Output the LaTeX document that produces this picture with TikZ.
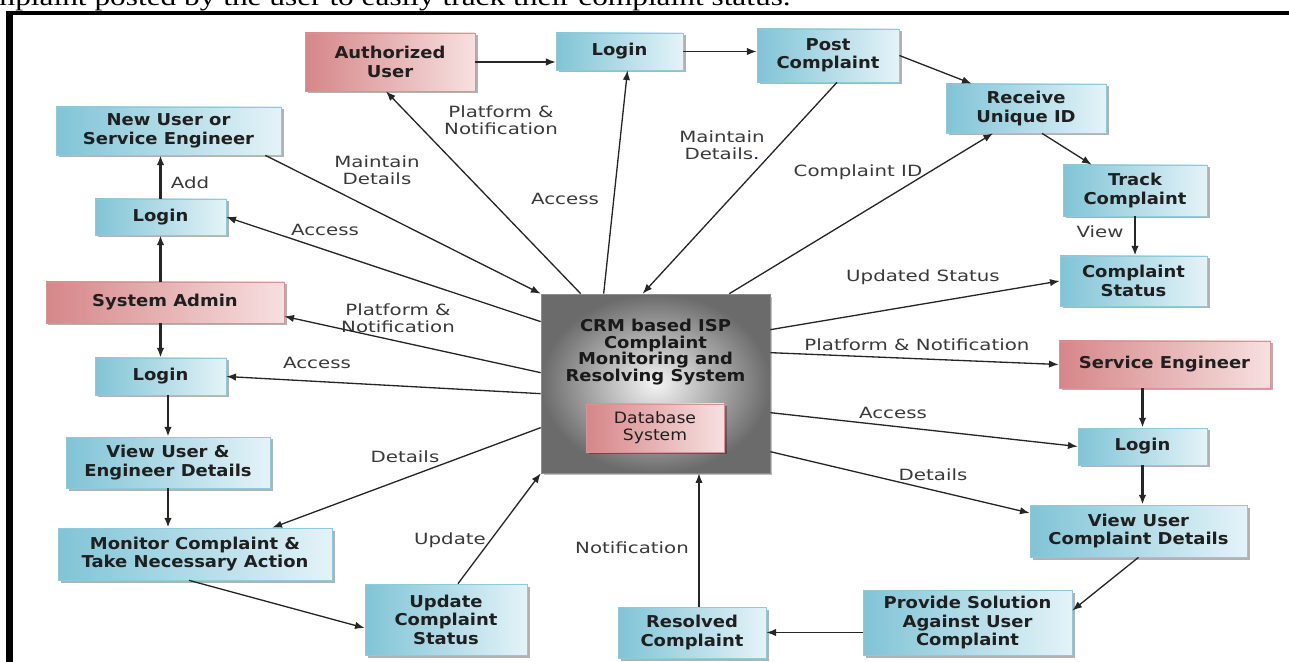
\documentclass[tikz,border=0pt]{standalone}
\usepackage{fontspec}
\setmainfont{DejaVu Sans}
\newfontfamily\boxfont{DejaVu Sans}[FakeStretch=1.1]
\newfontfamily\lblfont{DejaVu Sans}[FakeStretch=1.28]
\newfontfamily\docfont{Liberation Serif}[FakeStretch=1.23]
\usetikzlibrary{arrows.meta,shadows,calc}
\definecolor{bluedark}{RGB}{128,196,214}
\definecolor{bluelight}{RGB}{228,243,248}
\definecolor{reddark}{RGB}{214,134,136}
\definecolor{redlight}{RGB}{247,224,224}
\definecolor{txtgray}{RGB}{58,58,58}
\begin{document}
\begin{tikzpicture}[x=0.02cm, y=-0.02cm, >={Latex[length=5.5pt,width=4.2pt]},
  box/.style 2 args={minimum width=#1*0.02cm, minimum height=#2*0.02cm, inner sep=0pt,
    align=center, text=black!88, font=\boxfont\bfseries\fontsize{9.3}{10.5}\selectfont,
    drop shadow={shadow xshift=0.05cm, shadow yshift=-0.05cm, opacity=0.3, fill=black}},
  bluebox/.style 2 args={box={#1}{#2}, left color=bluedark, right color=bluelight, draw=bluedark!90, line width=0.4pt},
  redbox/.style 2 args={box={#1}{#2}, left color=reddark, right color=redlight, draw=reddark!90, line width=0.4pt},
  crmbox/.style={minimum width=4.58cm, minimum height=3.58cm, inner sep=0pt, shading=radial,
    inner color=black!4, outer color=black!58, draw=black!45, line width=0.4pt,
    drop shadow={shadow xshift=0.05cm, shadow yshift=-0.05cm, opacity=0.25, fill=black}},
  crmtext/.style={align=center, text=black!90, font=\boxfont\bfseries\fontsize{9.3}{9.6}\selectfont},
  lbl/.style={align=center, text=txtgray, inner sep=0pt, font=\lblfont\fontsize{8.8}{9.4}\selectfont},
  flow/.style={->, line width=0.75pt, black!85},
  vflow/.style={flow, line width=1.3pt}]
\useasboundingbox (0,0) rectangle (1289,662);
\clip (0,0) rectangle (1289,662);
% page text and frame
\node[anchor=base west, inner sep=0pt, font=\docfont\fontsize{14.5}{17}\selectfont] (doctext) at (-39,5.5)
  {complaint posted by the user to easily track their complaint status.};
\fill (6,11) rectangle (1300,15.5);
\fill (6,11) rectangle (13,670);
% boxes
\node[redbox={170}{58}] (auth) at (390,62) {Authorized\\User};
\node[bluebox={127}{37}] (login1) at (619.5,51.5) {Login};
\node[bluebox={142}{53}] (post) at (828,55.5) {Post\\Complaint};
\node[bluebox={160}{49}] (recv) at (1026,108.5) {Receive\\Unique ID};
\node[bluebox={144}{51}] (track) at (1135,190.5) {Track\\Complaint};
\node[bluebox={147}{50}] (cstatus) at (1133.5,281) {Complaint\\Status};
\node[redbox={211}{47}] (seng) at (1164.5,364.5) {Service Engineer};
\node[bluebox={129}{37}] (login4) at (1142.5,446.5) {Login};
\node[bluebox={217}{52}] (vucd) at (1138.5,531) {View User\\Complaint Details};
\node[bluebox={209}{65}] (provide) at (967.5,622.5) {Provide Solution\\Against User\\Complaint};
\node[bluebox={148}{51}] (resolved) at (692,632.5) {Resolved\\Complaint};
\node[bluebox={162}{71}] (update) at (446,619.5) {Update\\Complaint\\Status};
\node[bluebox={274}{52}] (monitor) at (195,554) {Monitor Complaint \&\\Take Necessary Action};
\node[bluebox={204}{51}] (vued) at (168,462.5) {View User \&\\Engineer Details};
\node[bluebox={131}{37}] (login3) at (160.5,376.5) {Login};
\node[redbox={238}{41}] (admin) at (165,302.5) {System Admin};
\node[bluebox={131}{36}] (login2) at (160.5,217) {Login};
\node[bluebox={225}{48}] (newuser) at (168.5,131) {New User or\\Service Engineer};
\node[crmbox] (crm) at (655.5,383.5) {};
\node[crmtext] (crmtitle) at (655.5,352) {CRM based ISP\\Complaint\\Monitoring and\\Resolving System};
\node[redbox={138}{48}, font=\boxfont\fontsize{8.9}{9.7}\selectfont] (db) at (655,428) {Database\\System};
% labels
\node[lbl] (tpn1) at (501,120) {Platform \&\\Notification};
\node[lbl] (tmd1) at (377,170) {Maintain\\Details};
\node[lbl] (tadd) at (190,183) {Add};
\node[lbl] (tac1) at (325,230) {Access};
\node[lbl] (tac2) at (565,199) {Access};
\node[lbl] (tmd2) at (722,145) {Maintain\\Details\textcolor{blue}{.}};
\node[lbl] (tcid) at (858,172) {Complaint ID};
\node[lbl] (tview) at (1100,232) {View};
\node[lbl] (tups) at (923,277) {Updated Status};
\node[lbl] (tpn2) at (917,345) {Platform \& Notification};
\node[lbl] (tac3) at (893,413) {Access};
\node[lbl] (tdet1) at (933,475) {Details};
\node[lbl] (tnot) at (632,548) {Notification};
\node[lbl] (tupd) at (450,540) {Update};
\node[lbl] (tdet2) at (405,457) {Details};
\node[lbl] (tpn3) at (398,318) {Platform \&\\Notification};
\node[lbl] (tac4) at (317,363) {Access};
% user side
\draw[flow] (auth.east) -- (auth.east -| login1.west);
\draw[flow] (login1.east) -- (login1.east -| post.west);
\draw[flow] (post.east) -- ($(recv.north west)+(26,0)$);
\draw[flow] ($(recv.south)+(16,0)$) -- ($(track.north west)+(29,0)$);
\draw[vflow] (track.south) -- (track.south |- cstatus.north);
% engineer side
\draw[vflow] (login4.north |- seng.south) -- (login4.north);
\draw[vflow] (login4.south) -- (login4.south |- vucd.north);
\draw[flow] (vucd.south) -- ($(provide.east)+(0,-12)$);
\draw[flow] (provide.west |- resolved.east) -- (resolved.east);
\coordinate (nbase) at ($(resolved.north)+(7,0)$);
\draw[flow] (nbase) -- (nbase |- crm.south);
% admin side
\draw[flow] ($(update.north)+(12,0)$) -- (crm.south west);
\draw[flow] ($(monitor.south)+(-6,0)$) -- ($(update.west)+(0,8.5)$);
\draw[vflow] (vued.south) -- (vued.south |- monitor.north);
\draw[vflow] (login3.south -| vued.north) -- (vued.north);
\draw[vflow] (login3.north |- admin.south) -- (login3.north);
\draw[vflow] (login2.south |- admin.north) -- (login2.south);
\draw[vflow] (login2.north) -- (login2.north |- newuser.south);
\draw[flow] ($(newuser.south east)+(-16,0)$) -- (crm.north west);
% from the system
\draw[flow] ($(crm.north west)+(0,28)$) -- (login2.east);
\draw[flow] ($(crm.north west)+(0,79)$) -- ($(admin.south east)+(0,-7)$);
\draw[flow] ($(crm.north west)+(0,100)$) -- (login3.east);
\draw[flow] ($(crm.north west)+(0,134)$) -- ($(monitor.north east)+(-60,0)$);
\draw[flow] ($(crm.north west)+(40,0)$) -- ($(auth.south)+(-4,0)$);
\draw[flow] ($(crm.north west)+(63,0)$) -- ($(login1.south)+(8,0)$);
\draw[flow] ($(post.south)+(9,0)$) -- ($(crm.north west)+(102,0)$);
\draw[flow] ($(crm.north east)+(-41,0)$) -- ($(recv.south)+(-33,0)$);
\draw[flow] ($(crm.north east)+(0,36)$) -- (cstatus.west);
\draw[flow] ($(crm.north east)+(0,59)$) -- (seng.west);
\draw[flow] ($(crm.north east)+(0,119)$) -- (login4.west);
\draw[flow] ($(crm.north east)+(0,158)$) -- ($(vucd.west)+(0,-18)$);
\end{tikzpicture}
\end{document}
